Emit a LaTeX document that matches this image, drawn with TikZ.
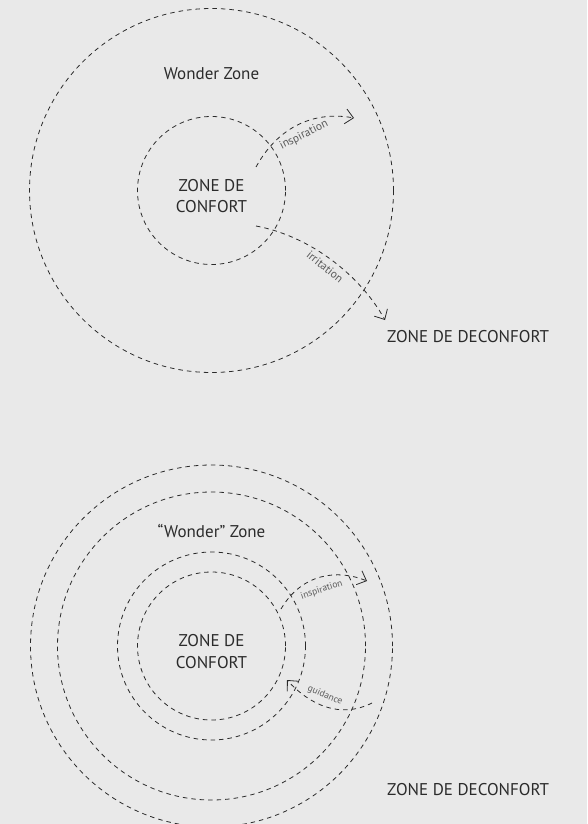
\documentclass[tikz,border=0pt]{standalone}
\usepackage{fontspec}
\setmainfont{PT Sans}
\usetikzlibrary{arrows.meta}
\definecolor{inkgray}{HTML}{2B2B2B}
\definecolor{paper}{HTML}{E9E9E9}
\definecolor{notegray}{HTML}{5A5A5A}

\begin{document}
\begin{tikzpicture}[x=1pt,y=-1pt,
    zone/.style={draw=inkgray,line width=0.8pt,dash pattern=on 4.5pt off 4pt},
    flow/.style={zone,-{Straight Barb[length=8pt,width=15pt]}},
    big/.style={font=\fontsize{17}{21.5}\selectfont,text=inkgray,align=center,inner sep=0pt},
    note/.style={text=notegray,inner sep=0pt}]
  \fill[paper] (0,0) rectangle (587,824);
  \clip (0,0) rectangle (587,824);

  % first diagram
  \coordinate (ctop) at (211.5,190.5);
  \draw[zone] (ctop) circle[radius=182pt];
  \draw[zone] (ctop) circle[radius=74pt];
  \node[big] (wondertop) at (211.5,74) {Wonder Zone};
  \node[big] (comforttop) at (211.5,196) {ZONE DE\\CONFORT};
  \node[big,anchor=west] (discomforttop) at (387,337) {ZONE DE DECONFORT};

  \coordinate (inspstart) at (256,167);
  \coordinate (inspend) at (354,118);
  \draw[flow] (inspstart) .. controls (282,120) and (322,112) .. (inspend);
  \node[note,font=\fontsize{11.5}{13}\selectfont,rotate=26.6] (insptop) at (304,135) {inspiration};

  \coordinate (irrstart) at (256,226);
  \coordinate (irrend) at (385,320);
  \draw[flow] (irrstart) .. controls (310,236) and (360,275) .. (irrend);
  \node[note,font=\fontsize{11.5}{13}\selectfont,rotate=-39] (irrtop) at (325,267) {irritation};

  % second diagram
  \coordinate (cbot) at (211.5,646);
  \foreach \r in {181,154,94,74}
    \draw[zone] (cbot) circle[radius=\r pt];
  \node[big] (wonderbot) at (211.5,530.5) {“Wonder” Zone};
  \node[big] (comfortbot) at (211.5,651.5) {ZONE DE\\CONFORT};
  \node[big,anchor=west] (discomfortbot) at (387,790) {ZONE DE DECONFORT};

  \coordinate (inspstartb) at (281,609);
  \coordinate (inspendb) at (367,581);
  \draw[flow] (inspstartb) .. controls (302,573) and (338,569) .. (inspendb);
  \node[note,font=\fontsize{9.5}{11}\selectfont,rotate=18.4] (inspbot) at (321.7,590) {inspiration};

  \coordinate (guidestart) at (372,703);
  \coordinate (guideend) at (287,680);
  \draw[flow] (guidestart) .. controls (340,719) and (310,705) .. (guideend);
  \node[note,font=\fontsize{9.5}{11}\selectfont,rotate=-23] (guidebot) at (325,695.5) {guidance};
\end{tikzpicture}
\end{document}
